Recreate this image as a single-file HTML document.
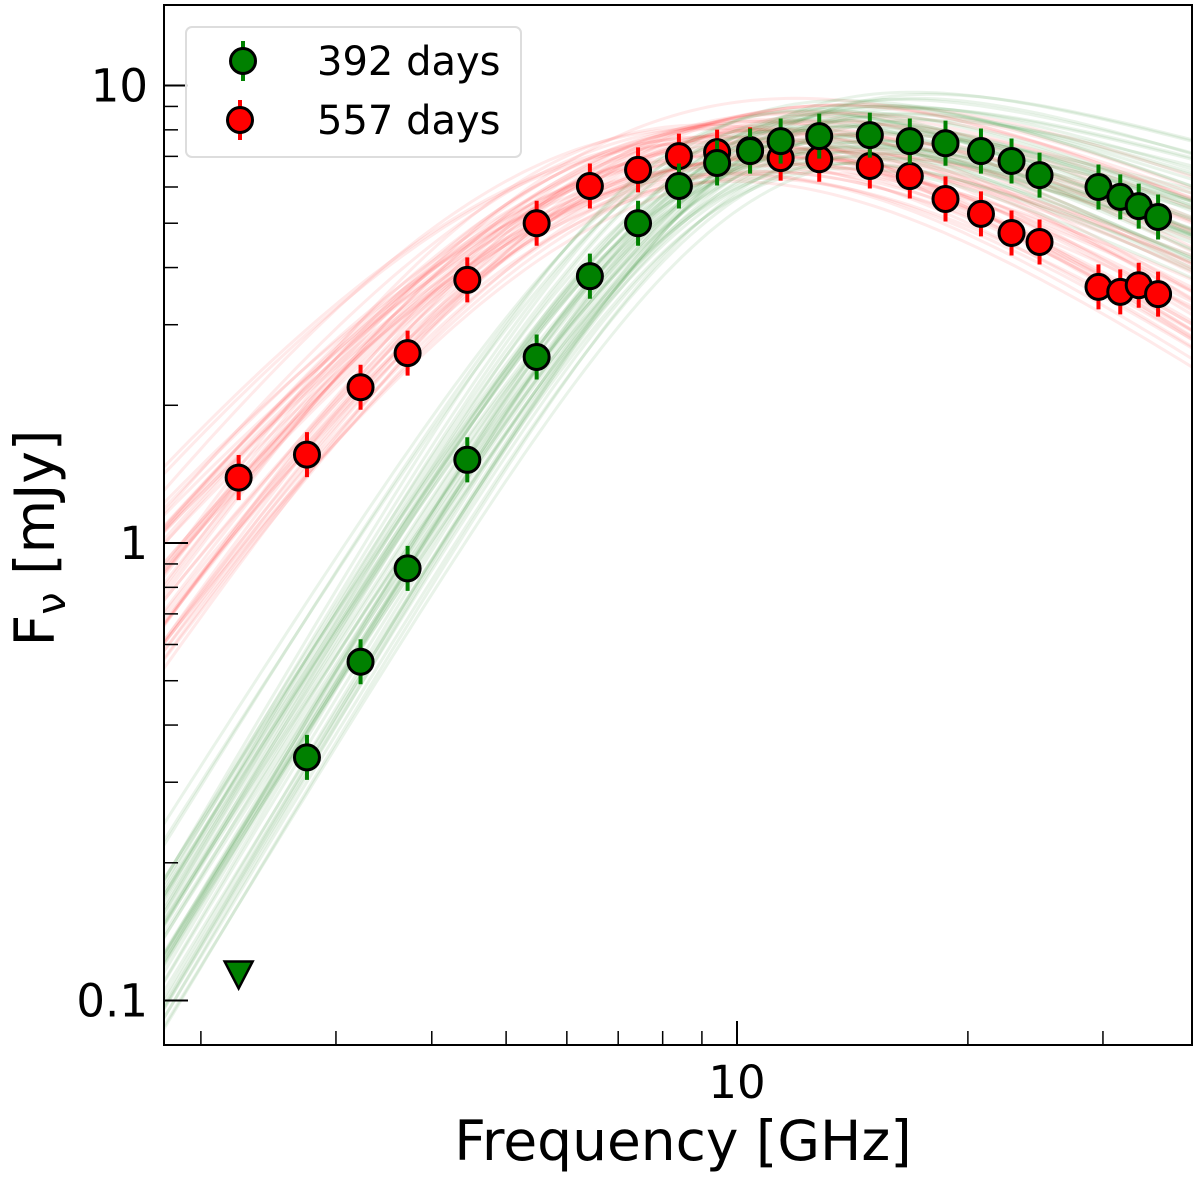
<!DOCTYPE html>
<html><head><meta charset="utf-8"><style>
html,body{margin:0;padding:0;background:#fff;}
svg{display:block;font-family:"DejaVu Sans","Liberation Sans",sans-serif;}
</style></head><body>
<svg id="chart" width="1200" height="1177" viewBox="0 0 1200 1177">
<defs><clipPath id="clip"><rect x="164" y="5" width="1028" height="1040"/></clipPath></defs>
<g id="curves" clip-path="url(#clip)"></g>
<g id="marks"></g>
<rect x="164" y="5" width="1028" height="1040" fill="none" stroke="#000" stroke-width="2"/>
<g id="axes"></g>
<text x="683" y="1160" font-size="55" text-anchor="middle">Frequency [GHz]</text>
<text transform="translate(54,538) rotate(-90)" font-size="55" text-anchor="middle">F<tspan font-size="40" dy="11">ν</tspan><tspan dy="-11"> [mJy]</tspan></text>
<g>
<rect x="186" y="27" width="335" height="130" rx="6" fill="#fff" fill-opacity="0.85" stroke="#ddd" stroke-width="2"/>
<g>
<line x1="243" y1="41" x2="243" y2="81" stroke="green" stroke-width="4"/>
<circle cx="243" cy="61" r="12.5" fill="green" stroke="#000" stroke-width="3"/>
<text x="317" y="75" font-size="40">392 days</text></g>
<g>
<line x1="240" y1="100" x2="240" y2="140" stroke="red" stroke-width="4"/>
<circle cx="240" cy="120" r="12.5" fill="red" stroke="#000" stroke-width="3"/>
<text x="317" y="134" font-size="40">557 days</text></g>
</g>
</svg>
<script>
const freqs = [2.24,2.75,3.23,3.72,4.45,5.48,6.43,7.43,8.40,9.42,10.4,11.4,12.8,14.9,16.8,18.7,20.8,22.8,24.8,29.6,31.6,33.4,35.4];
const green392 = [null,0.34,0.55,0.88,1.52,2.55,3.83,5.0,6.03,6.77,7.19,7.56,7.75,7.79,7.56,7.48,7.19,6.84,6.37,6.0,5.71,5.45,5.16];
const greenUpperLimit = {freq:2.24, value:0.114};
const red557 = [1.39,1.56,2.19,2.60,3.76,5.0,6.03,6.54,7.01,7.15,7.23,6.94,6.90,6.67,6.34,5.65,5.24,4.76,4.55,3.63,3.54,3.66,3.50];
const xTicksMajor = [10];
const xTicksMinor = [2,3,4,5,6,7,8,9,20,30];
const yTicksMajor = [0.1,1,10];
const yTickLabels = ["0.1","1","10"];
// model parameters (smoothed broken power law)
const greenModel = {A:12.8, nub:9.3, b1:2.75, b2:-0.62, s:1.0};
const redModel = {A:20.5, nub:7, b1:2.25, b2:-0.95, s:0.6};
const dLogNu = [-0.06,0.04,-0.02,0.07,0.0,-0.04,0.03,-0.08,0.05,0.01];
const dLogA = [0.03,-0.05,0.06,-0.02,0.0,0.04,-0.06,0.02,-0.03,0.05];
const dB1 = [-0.25,0.15,0.0,0.3,-0.1,0.2,-0.3,0.1,-0.15,0.25];

const X = f => 737 + 767*Math.log10(f/10);
const Y = v => 543 - 457.5*Math.log10(v);
const NS = "http://www.w3.org/2000/svg";
function mk(tag, attrs, parent){const e=document.createElementNS(NS,tag);for(const k in attrs)e.setAttribute(k,attrs[k]);parent.appendChild(e);return e;}
function model(p,nu){const L=Math.log10(nu/p.nub);return p.A*Math.pow(Math.pow(10,-p.s*p.b1*L)+Math.pow(10,-p.s*p.b2*L),-1/p.s);}

const curves=document.getElementById('curves');
function drawBand(p,color,name,dB2s,b1Scale,nuScale,aScale){
  for(let i=0;i<dLogNu.length;i++){for(let j=0;j<dB2s.length;j++){
    const q={A:p.A*Math.pow(10,aScale*dLogA[(i+j*3)%10]),nub:p.nub*Math.pow(10,dLogNu[i]*nuScale),b1:p.b1+b1Scale*dB1[(i*7+j)%10],b2:p.b2+dB2s[j],s:p.s};
    let d="";
    for(let k=0;k<=120;k++){const f=1.7*Math.pow(40/1.7,k/120);d+=(k?"L":"M")+X(f).toFixed(1)+","+Y(model(q,f)).toFixed(1);}
    const path=mk('path',{d:d,fill:'none',stroke:color,'stroke-width':3,'stroke-opacity':0.1},curves);
    
    
  }}
}
drawBand(redModel,'#ff3030','red-model-curve',[-0.12,0,0.12,0.2,-0.18],0.9,0.6,1.0);
drawBand(greenModel,'#2a8a2a','green-model-curve',[-0.15,0,0.15,0.08,-0.07],0.4,0.7,1.0);

const marks=document.getElementById('marks');
function drawSeries(vals,color,name){
  vals.forEach((v,i)=>{
    if(v==null)return;
    const g=mk('g',{},marks);
    
    
    const x=X(freqs[i]);
    mk('line',{x1:x,x2:x,y1:Y(v*1.12),y2:Y(v/1.12),stroke:color,'stroke-width':4},g);
    mk('circle',{cx:x,cy:Y(v),r:12.5,fill:color,stroke:'#000','stroke-width':3},g);
  });
}
drawSeries(red557,'red','red-point');
drawSeries(green392,'green','green-point');
{
  const x=X(greenUpperLimit.freq), y=Y(greenUpperLimit.value);
  const t=mk('path',{d:`M${x-14},${y-13}L${x+14},${y-13}L${x},${y+14}Z`,fill:'green',stroke:'#000','stroke-width':2.5},marks);
  
  
}

const axes=document.getElementById('axes');
xTicksMajor.forEach(f=>{const x=X(f);
  mk('line',{x1:x,x2:x,y1:1045,y2:1021,stroke:'#000','stroke-width':2},axes);
  const t=mk('text',{x:x,y:1098,'font-size':45,'text-anchor':'middle'},axes);t.textContent=f;
  
  
});
xTicksMinor.forEach(f=>{const x=X(f);mk('line',{x1:x,x2:x,y1:1045,y2:1031,stroke:'#000','stroke-width':1.5},axes);});
yTicksMajor.forEach((v,i)=>{const y=Y(v);
  mk('line',{x1:164,x2:188,y1:y,y2:y,stroke:'#000','stroke-width':2},axes);
  const t=mk('text',{x:148,y:y+16,'font-size':45,'text-anchor':'end'},axes);t.textContent=yTickLabels[i];
  
  
});
[0.1,1,10].forEach(d=>{for(let m=2;m<=9;m++){const v=d*m;const y=Y(v);if(y<5||y>1045)continue;
  mk('line',{x1:164,x2:178,y1:y,y2:y,stroke:'#000','stroke-width':1.5},axes);}});
</script>
</body></html>
